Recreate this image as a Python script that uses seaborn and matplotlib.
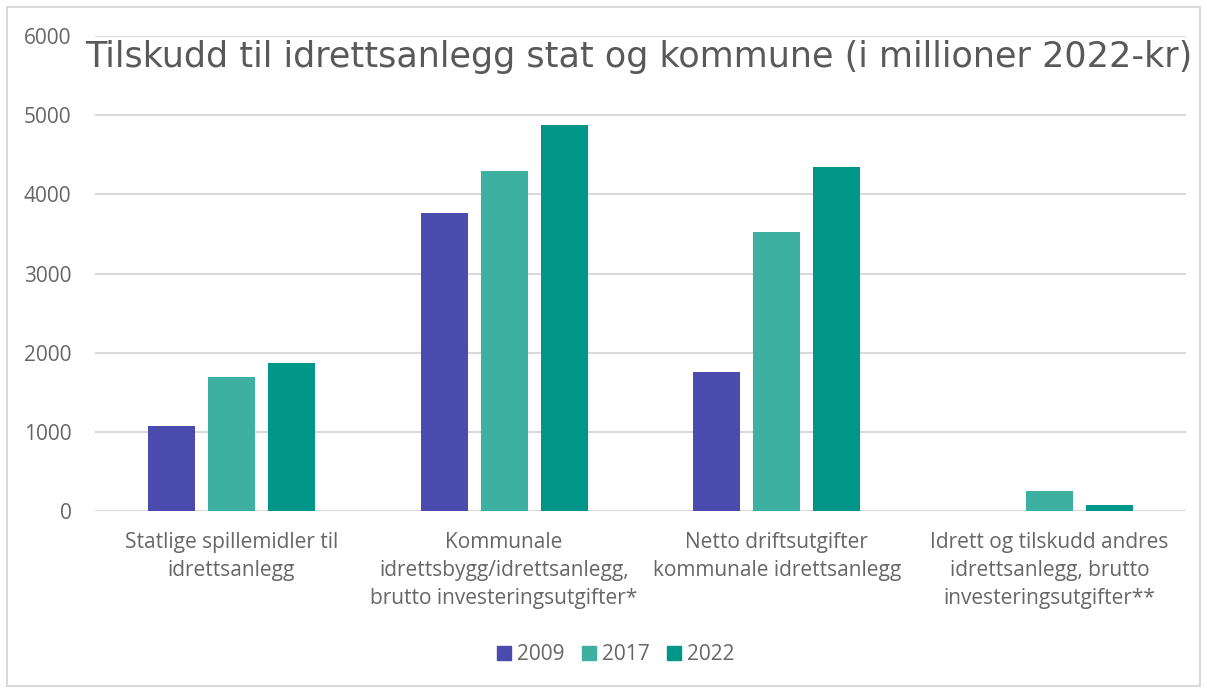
import matplotlib
matplotlib.use("Agg")
import matplotlib.pyplot as plt
import seaborn as sns
import pandas as pd
from matplotlib.patches import Rectangle

categories = [
    "Statlige spillemidler til\nidrettsanlegg",
    "Kommunale\nidrettsbygg/idrettsanlegg,\nbrutto investeringsutgifter*",
    "Netto driftsutgifter\nkommunale idrettsanlegg",
    "Idrett og tilskudd andres\nidrettsanlegg, brutto\ninvesteringsutgifter**",
]
years = ["2009", "2017", "2022"]
values_2009 = [1070, 3760, 1750, 0]
values_2017 = [1690, 4290, 3520, 250]
values_2022 = [1870, 4870, 4350, 80]
yticks = [0, 1000, 2000, 3000, 4000, 5000, 6000]
title = "Tilskudd til idrettsanlegg stat og kommune (i millioner 2022-kr)"

df = pd.DataFrame({"Kategori": categories, "2009": values_2009,
                   "2017": values_2017, "2022": values_2022})
long = df.melt(id_vars="Kategori", var_name="År", value_name="Verdi")

colors = ["#4B4BAE", "#3EB0A2", "#009688"]
txt = "#666666"

sns.set_theme(style="white")
plt.rcParams["font.family"] = ["Open Sans", "DejaVu Sans"]

fig = plt.figure(figsize=(12.07, 6.88), dpi=100)
ax = fig.add_axes([95/1207, 1-511/688, (1186-95)/1207, (511-36)/688])

sns.barplot(data=long, x="Kategori", y="Verdi", hue="År", order=categories,
            hue_order=years, palette=colors, saturation=1, width=0.66, gap=0.22,
            linewidth=0, ax=ax, legend=True)

ax.set_xlim(-0.5, 3.5)
ax.set_ylim(0, 6000)
ax.set_yticks(yticks)
ax.set_yticklabels([str(t) for t in yticks])
ax.yaxis.grid(True, color="#d9d9d9", linewidth=1.5)
ax.set_axisbelow(True)
for s in ax.spines.values():
    s.set_visible(False)
ax.set_xlabel("")
ax.set_ylabel("")
ax.tick_params(axis="y", length=0, pad=17, labelsize=15, labelcolor=txt)
ax.tick_params(axis="x", length=0, pad=15, labelsize=15, labelcolor=txt)
for lab in ax.get_xticklabels():
    lab.set_linespacing(1.45)

leg = ax.get_legend()
leg.remove()
handles = [Rectangle((0, 0), 1, 1, color=c) for c in colors]
fig.legend(handles, years, loc="center", bbox_to_anchor=(616/1207, 1-655/688),
           ncol=3, frameon=False, handlelength=0.65, handleheight=0.65,
           columnspacing=0.85, handletextpad=0.3,
           prop={"family": "Open Sans", "size": 15}, labelcolor=txt)

fig.text(85/1207, 1-57/688, title, ha="left", va="center",
         fontsize=25.2, color="#595959", family="DejaVu Sans")

fig.patches.append(Rectangle((7/1207, 2/688), 1-14/1207, 1-9/688,
                             transform=fig.transFigure, fill=False,
                             edgecolor="#d9d9d9", linewidth=1.5))

fig.savefig("out.png", dpi=100)
